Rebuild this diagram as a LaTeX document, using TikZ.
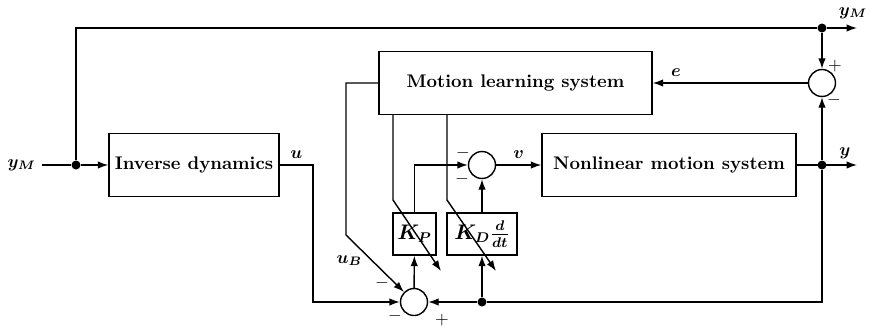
\documentclass[tikz,border=0pt]{standalone}
\usepackage{amsmath,amssymb}
\usepackage{bm}
\usepackage{tikz}
\usetikzlibrary{arrows.meta,positioning}

\begin{document}
\begin{tikzpicture}[
        x=0.02cm, y=-0.02cm,
        font=\fontsize{10.4}{12.5}\selectfont\bfseries,
        block/.style={draw, line width=0.8pt, minimum height=1.26cm, inner sep=2pt},
        gain/.style={draw, line width=0.8pt, minimum height=0.84cm, inner sep=1pt,
                     font=\fontsize{11.5}{13}\selectfont},
        sum/.style={draw, circle, line width=0.8pt, minimum size=0.54cm, inner sep=0pt},
        dot/.style={circle, fill, inner sep=0pt, minimum size=1.8mm},
        arr/.style={-{Latex[length=2.1mm,width=1.5mm]}, line width=0.8pt},
        ln/.style={line width=0.8pt},
        sgn/.style={inner sep=0pt, font=\normalfont}
      ]
        \useasboundingbox (0,0) rectangle (869,326);
        % blocks
        \node[block, minimum width=3.4cm]  (inv) at (194,165)   {Inverse dynamics};
        \node[block, minimum width=5.46cm] (mls) at (515.5,83)  {Motion learning system};
        \node[block, minimum width=5.08cm] (nms) at (669,165)   {Nonlinear motion system};
        \node[gain, minimum width=0.86cm]  (kp)  at (414.5,234) {$\bm{K_P}$};
        \node[gain, minimum width=1.4cm]   (kd)  at (482,234)   {$\bm{K_D\frac{d}{dt}}$};
        % summing junctions
        \node[sum] (sb) at (414,302) {};
        \node[sum] (sv) at (482,165) {};
        \node[sum] (se) at (822,83)  {};
        % branch points
        \node[dot] (din)  at (76,165)  {};
        \node[dot] (dtop) at (822,28)  {};
        \node[dot] (dy)   at (822,165) {};
        \node[dot] (dfb)  at (482,302) {};
        \coordinate (ymin)  at (42,165);
        \coordinate (ymout) at (857,28);
        \coordinate (yout)  at (857,165);
        \coordinate (ub)    at (346,235);
        \coordinate (uc)    at (313,302);
        \coordinate (kpa)   at (393,200);
        \coordinate (kptip) at (441,271);
        \coordinate (kda)   at (447,200);
        \coordinate (kdtip) at (496,271);
        % reference input and its branch over the top
        \node[left] (lin) at (ymin) {$\bm{y_M}$};
        \draw[ln] (ymin) -- (din);
        \draw[arr] (din) -- (inv);
        \draw[ln] (din) |- (dtop);
        \draw[arr] (dtop) -- (ymout);
        \node (lout) at (853,13) {$\bm{y_M}$};
        \draw[arr] (dtop) -- (se);
        \draw[arr] (se) -- node[above, pos=0.85]{$\bm{e}$} (mls.east);
        % plant and output
        \draw[arr] (sv) -- node[above]{$\bm{v}$} (nms);
        \draw[arr] (nms) -- node[above, pos=0.8]{$\bm{y}$} (yout);
        \draw[arr] (dy) -- (se);
        \draw[arr] (dy) |- (dfb) -- (sb);
        % inner loop
        \foreach \a/\b in {dfb/kd,kd/sv,sb/kp}
          \draw[arr] (\a) -- (\b);
        \draw[arr] (kp) |- (sv);
        \draw[arr] (inv.east) -- node[above]{$\bm{u}$} (uc |- inv.east) -- (uc) -- (sb);
        \draw[arr] (mls.west) -| (ub) -- node[pos=0.45, left=2pt]{$\bm{u_B}$} (sb.135);
        % gain adaption arrows
        \draw[arr] (mls.south -| kpa) -- (kpa) -- (kptip);
        \draw[arr] (mls.south -| kda) -- (kda) -- (kdtip);
        % signs
        \node[sgn] (pe)  at (835,66)  {$+$};
        \node[sgn] (me)  at (834,100) {$-$};
        \node[sgn] (mv1) at (463,153) {$-$};
        \node[sgn] (mv2) at (462,179) {$-$};
        \node[sgn] (mb1) at (382,283) {$-$};
        \node[sgn] (mb2) at (395,316) {$-$};
        \node[sgn] (pb)  at (442,320) {$+$};
      \end{tikzpicture}
\end{document}
